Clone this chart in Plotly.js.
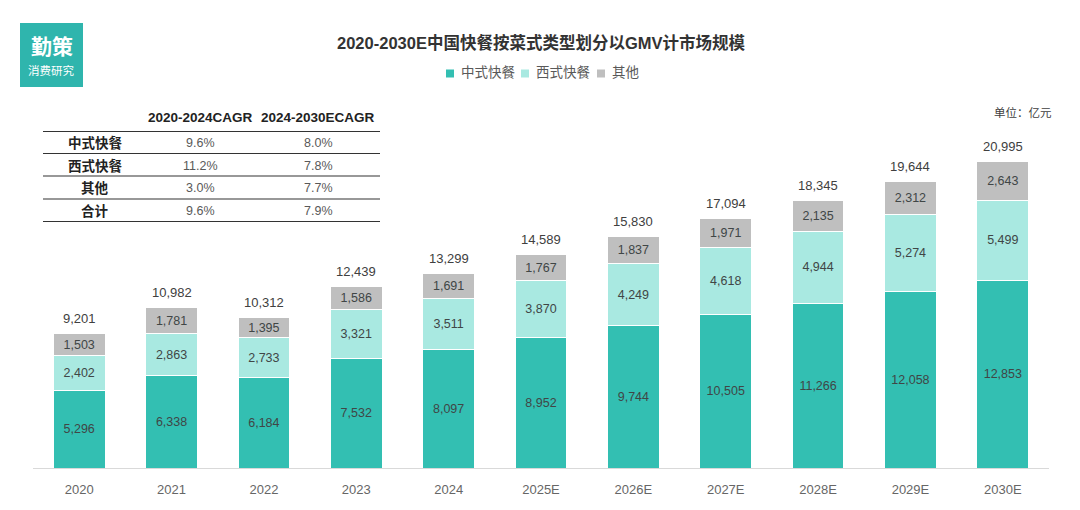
<!DOCTYPE html>
<html>
<head>
<meta charset="utf-8">
<script src="https://cdn.plot.ly/plotly-3.0.1.min.js"></script>
<style>html,body{margin:0;padding:0;background:#fff;}#chart{width:1080px;height:510px;}</style>
</head>
<body>
<div id="chart"></div>
<script>
const years = ['2020','2021','2022','2023','2024','2025E','2026E','2027E','2028E','2029E','2030E'];
const chinese = [5296,6338,6184,7532,8097,8952,9744,10505,11266,12058,12853];
const western = [2402,2863,2733,3321,3511,3870,4249,4618,4944,5274,5499];
const others  = [1503,1781,1395,1586,1691,1767,1837,1971,2135,2312,2643];
const totals  = [9201,10982,10312,12439,13299,14589,15830,17094,18345,19644,20995];
const seriesNames = ['中式快餐','西式快餐','其他'];

const tableHeader = ['2020-2024CAGR','2024-2030ECAGR'];
const tableRows = ['中式快餐','西式快餐','其他','合计'];
const cagr1 = ['9.6%','11.2%','3.0%','9.6%'];
const cagr2 = ['8.0%','7.8%','7.7%','7.9%'];

const FONT = '"Liberation Sans", Arial, "Noto Sans CJK SC", sans-serif';
const colors = ['#33bfb2','#a9e9e1','#bfbfbf'];
const fmt = v => v.toLocaleString('en-US');

function barTrace(vals, i){
  return {
    type:'bar', x:years, y:vals, name:seriesNames[i],
    marker:{color:colors[i], line:{color:'#ffffff', width:1}},
    text: vals.map(fmt), textposition:'inside', insidetextanchor:'middle',
    textfont:{family:FONT, size:12.5, color:'#404646'},
    constraintext:'none', cliponaxis:false, hoverinfo:'x+y', showlegend:false
  };
}
const traces = [barTrace(chinese,0), barTrace(western,1), barTrace(others,2)];

const annotations = [];
const shapes = [];

const PL=33, PR=31, PT=100, PB=42;
const PW=1080-PL-PR, PH=510-PT-PB;
const px = x => (x-PL)/PW;
const py = y => (PT+PH-y)/PH;

// totals above bars (data-positioned; category index on the x axis)
years.forEach((yr,i)=>{
  annotations.push({x:i, y:totals[i], xref:'x', yref:'y', yshift:15, yanchor:'middle', xanchor:'center',
    text:fmt(totals[i]), showarrow:false, font:{family:FONT, size:13, color:'#404040'}});
});

// title
annotations.push({xref:'paper', yref:'paper', x:px(541), xanchor:'center', y:py(43), yanchor:'middle',
  text:'<b>2020-2030E中国快餐按菜式类型划分以GMV计市场规模</b>', showarrow:false,
  font:{family:FONT, size:16.5, color:'#333333'}});

// legend (manual)
const legX = [446, 521, 597];
seriesNames.forEach((n,i)=>{
  shapes.push({type:'rect', xref:'paper', yref:'paper', x0:px(legX[i]), x1:px(legX[i]+8), y0:py(77.5), y1:py(69.5),
    fillcolor:colors[i], line:{width:0}});
  annotations.push({xref:'paper', yref:'paper', x:px(legX[i]+13), xanchor:'left', y:py(73), yanchor:'middle',
    text:n, showarrow:false, font:{family:FONT, size:13.5, color:'#595959'}});
});

// unit
annotations.push({xref:'paper', yref:'paper', x:px(1054), xanchor:'right', y:py(112), yanchor:'middle',
  text:'单位：亿元', showarrow:false, font:{family:FONT, size:11.5, color:'#404040'}});

// logo box
shapes.push({type:'rect', xref:'paper', yref:'paper', x0:px(20), x1:px(83), y0:py(87), y1:py(23),
  fillcolor:'#2fb5ad', line:{width:0}, layer:'above'});
annotations.push({xref:'paper', yref:'paper', x:px(51.5), y:py(45), xanchor:'center', yanchor:'middle',
  text:'<b>勤策</b>', showarrow:false, font:{family:'"Noto Sans CJK SC", sans-serif', size:21, color:'#ffffff'}});
annotations.push({xref:'paper', yref:'paper', x:px(51.5), y:py(70), xanchor:'center', yanchor:'middle',
  text:'消费研究', showarrow:false, font:{family:'"Noto Sans CJK SC", sans-serif', size:11.5, color:'#ffffff'}});

// CAGR table
const lineYs = [131.5, 153.5, 176, 199, 221.5];
lineYs.forEach(y=>{
  shapes.push({type:'line', xref:'paper', yref:'paper', x0:px(43), x1:px(380), y0:py(y), y1:py(y),
    line:{color:'#333333', width:1.2}});
});
const colX = [200, 318];
const rowYs = [143, 165.5, 188, 210.5];
tableHeader.forEach((h,j)=>{
  annotations.push({xref:'paper', yref:'paper', x:px(colX[j]), y:py(117), xanchor:'center', yanchor:'middle',
    text:'<b>'+h+'</b>', showarrow:false, font:{family:FONT, size:13.5, color:'#222222'}});
});
tableRows.forEach((r,i)=>{
  annotations.push({xref:'paper', yref:'paper', x:px(95), y:py(rowYs[i]), xanchor:'center', yanchor:'middle',
    text:'<b>'+r+'</b>', showarrow:false, font:{family:FONT, size:13.5, color:'#222222'}});
  annotations.push({xref:'paper', yref:'paper', x:px(colX[0]), y:py(rowYs[i]), xanchor:'center', yanchor:'middle',
    text:cagr1[i], showarrow:false, font:{family:FONT, size:12.5, color:'#595959'}});
  annotations.push({xref:'paper', yref:'paper', x:px(colX[1]), y:py(rowYs[i]), xanchor:'center', yanchor:'middle',
    text:cagr2[i], showarrow:false, font:{family:FONT, size:12.5, color:'#595959'}});
});

const layout = {
  width:1080, height:510,
  margin:{l:PL, r:PR, t:PT, b:PB},
  paper_bgcolor:'#ffffff', plot_bgcolor:'#ffffff',
  barmode:'stack', bargap:0.44,
  font:{family:FONT, color:'#595959'},
  showlegend:false,
  xaxis:{type:'category', range:[-0.5,10.5], showline:true, linecolor:'#d9d9d9', linewidth:1,
    ticks:'', ticklabelstandoff:9, tickfont:{family:FONT, size:13, color:'#666666'},
    showgrid:false, zeroline:false, fixedrange:true},
  yaxis:{range:[0,25200], visible:false, showgrid:false, zeroline:false, fixedrange:true},
  annotations: annotations,
  shapes: shapes
};

Plotly.newPlot(document.getElementById('chart'), traces, layout, {displayModeBar:false, staticPlot:true});
</script>
</body>
</html>
